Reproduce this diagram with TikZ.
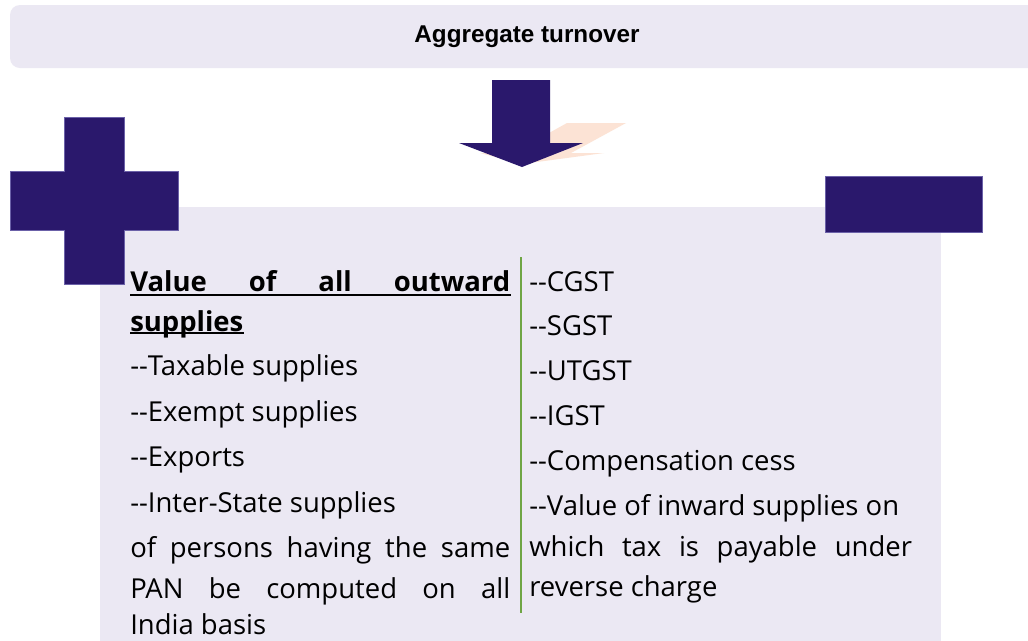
\documentclass[tikz,border=0pt]{standalone}
\usepackage{fontspec}
\setmainfont{Open Sans}
\newfontfamily\titlefont{Liberation Sans}
\definecolor{lav}{HTML}{EBE8F3}
\definecolor{navy}{HTML}{2A186C}
\definecolor{navyedge}{HTML}{6B61A8}
\definecolor{peach}{HTML}{FCE3D5}
\definecolor{gline}{HTML}{6FA545}
\newcommand\dd{\mbox{-}\mbox{-}}
\newcommand\bodysize{\fontsize{20.6pt}{24pt}\selectfont}
\begin{document}
\begin{tikzpicture}[x=0.75pt,y=-0.75pt,
  body/.style={anchor=base west,inner sep=0pt,font=\bodysize},
  head/.style={body,font=\bodysize\bfseries},
  navyshape/.style={fill=navy,draw=navyedge,line width=0.6pt},
  uline/.style={line width=1.2pt}]
\useasboundingbox (0,0) rectangle (1028,640);
\clip (0,0) rectangle (1028,640);
\fill[white] (0,0) rectangle (1028,640);
% banner
\fill[lav,rounded corners=7.5pt] (10,5) rectangle (1045,68);
\node[font=\titlefont\bfseries\fontsize{18.2pt}{20pt}\selectfont,inner sep=0pt] (title) at (527,37) {Aggregate turnover};
% arrow shadow and arrow
\fill[peach] (567,123) -- (626,123) -- (571,153) -- (604,153) -- (522,164) -- (480,153) -- (513,153) -- cycle;
\fill[navy] (492,80) -- (550,80) -- (550,143) -- (583,143) -- (522,167) -- (459,143) -- (492,143) -- cycle;
% content box
\fill[lav] (100,207) rectangle (941,660);
% cross
\path[navyshape] (64,117) -- (124,117) -- (124,171) -- (178,171) -- (178,230) -- (124,230) -- (124,284) -- (64,284) -- (64,230) -- (10,230) -- (10,171) -- (64,171) -- cycle;
% right rectangle
\path[navyshape] (825,176) rectangle (982,232);
% divider
\draw[gline,line width=2pt] (521,257) -- (521,613);
% left column
\node[head] (h1) at (130,291) {\makebox[285pt][s]{Value of all outward}};
\node[head] (h2) at (130,331) {supplies};
\draw[uline] ([yshift=-3pt]h1.base west) -- ([yshift=-3pt]h1.base east);
\draw[uline] ([yshift=-1.5pt]h2.base west) -- ([yshift=-1.5pt]h2.base east);
\node[body] (l1) at (130,375) {\dd Taxable supplies};
\node[body] (l2) at (130,421) {\dd Exempt supplies};
\node[body] (l3) at (130,466) {\dd Exports};
\node[body] (l4) at (130,512) {\dd Inter-State supplies};
\node[body] (l5) at (130,557) {\makebox[285pt][s]{of persons having the same}};
\node[body] (l6) at (130,598) {\makebox[285pt][s]{PAN be computed on all}};
\node[body] (l7) at (130,634) {India basis};
% right column
\node[body] (r1) at (529,291) {\dd CGST};
\node[body] (r2) at (529,335) {\dd SGST};
\node[body] (r3) at (529,380) {\dd UTGST};
\node[body] (r4) at (529,425) {\dd IGST};
\node[body] (r5) at (529,470) {\dd Compensation cess};
\node[body] (r6) at (529,515) {\dd Value of inward supplies on};
\node[body] (r7) at (529,556) {\makebox[287pt][s]{which tax is payable under}};
\node[body] (r8) at (529,596) {reverse charge};
\end{tikzpicture}
\end{document}
